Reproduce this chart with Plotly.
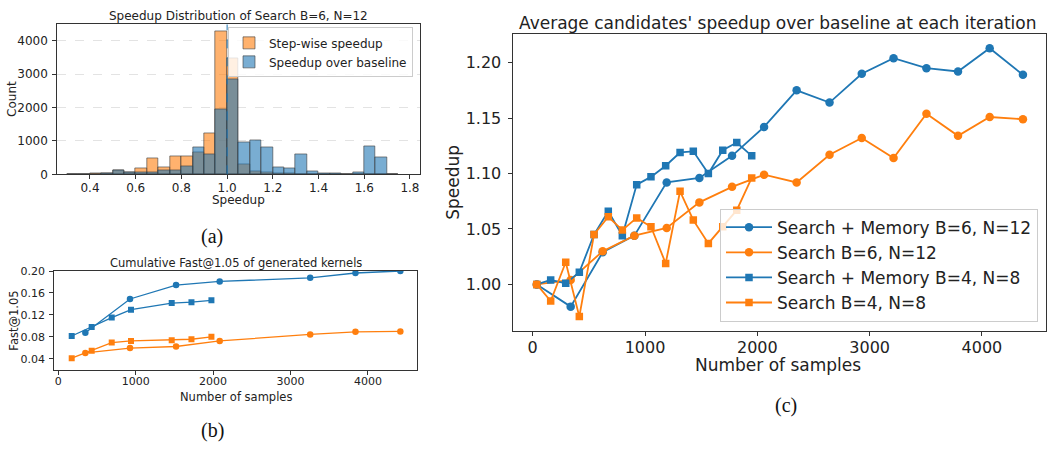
import plotly.graph_objects as go

W, H = 1047, 452

# ---------------- data: (a) histogram ----------------
bin_left = [0.30, 0.35, 0.40, 0.45, 0.50, 0.55, 0.60, 0.65, 0.70, 0.75, 0.80, 0.85, 0.90, 0.95,
            1.00, 1.05, 1.10, 1.15, 1.20, 1.25, 1.30, 1.35, 1.40, 1.45, 1.50, 1.55, 1.60, 1.65, 1.70]
bin_width = 0.05
stepwise_counts = [5, 10, 25, 20, 110, 70, 175, 465, 220, 545, 525, 660, 1220, 4290,
                   3485, 290, 88, 58, 40, 30, 10, 5, 5, 3, 2, 2, 0, 0, 0]
baseline_counts = [5, 5, 10, 30, 125, 65, 50, 68, 110, 122, 250, 818, 605, 1955,
                   2850, 940, 1005, 810, 195, 170, 610, 90, 25, 35, 10, 70, 845, 492, 3]

# ---------------- data: (b) cumulative Fast@1.05 ----------------
fast_x_b6 = [349, 926, 1521, 2085, 3254, 3839, 4419]
fast_mem_b6 = [0.0872, 0.1490, 0.1744, 0.1810, 0.1875, 0.1964, 0.2000]
fast_search_b6 = [0.0505, 0.0594, 0.0623, 0.0725, 0.0844, 0.0890, 0.0897]
fast_x_b4 = [173, 431, 690, 939, 1465, 1720, 1978]
fast_mem_b4 = [0.0815, 0.0979, 0.1151, 0.1294, 0.1416, 0.1431, 0.1466]
fast_search_b4 = [0.0410, 0.0546, 0.0694, 0.0724, 0.0737, 0.0755, 0.0800]

# ---------------- data: (c) average speedup ----------------
samples_b6 = [36, 338, 623, 905, 1193, 1484, 1775, 2060, 2350, 2643, 2930, 3213, 3506, 3787, 4069, 4365]
mem_b6 = [1.000, 0.980, 1.029, 1.044, 1.092, 1.096, 1.116, 1.142, 1.175, 1.164, 1.190, 1.204,
          1.195, 1.192, 1.213, 1.189]
search_b6 = [1.000, 1.004, 1.030, 1.044, 1.051, 1.074, 1.088, 1.099, 1.092, 1.117, 1.132, 1.114,
             1.154, 1.134, 1.151, 1.149]
samples_b4 = [36, 160, 294, 415, 546, 673, 798, 926, 1053, 1184, 1312, 1430, 1564, 1692, 1817, 1950]
mem_b4 = [1.000, 1.004, 1.001, 1.011, 1.045, 1.066, 1.044, 1.090, 1.097, 1.107, 1.119, 1.120,
          1.100, 1.121, 1.128, 1.116]
search_b4 = [1.000, 0.985, 1.020, 0.971, 1.045, 1.061, 1.049, 1.060, 1.052, 1.019, 1.084, 1.058,
             1.037, 1.052, 1.067, 1.096]

BLUE = "#1f77b4"
ORANGE = "#ff7f0e"
FONT = "DejaVu Sans"
TXT = "#222222"


def fx(p):
    return min(1.0, max(0.0, p / W))


def fy(p):
    return min(1.0, max(0.0, 1 - p / H))


fig = go.Figure()

# (a) histogram
centers = [b + bin_width / 2 for b in bin_left]
fig.add_trace(go.Bar(x=centers, y=stepwise_counts, width=bin_width, name="Step-wise speedup",
                     marker=dict(color="rgba(255,127,14,0.6)", line=dict(color="rgba(60,60,60,0.6)", width=1)),
                     xaxis="x", yaxis="y", legend="legend2"))
fig.add_trace(go.Bar(x=centers, y=baseline_counts, width=bin_width, name="Speedup over baseline",
                     marker=dict(color="rgba(31,119,180,0.6)", line=dict(color="rgba(60,60,60,0.6)", width=1)),
                     xaxis="x", yaxis="y", legend="legend2"))

# (b) cumulative
lb = dict(width=1.3)
fig.add_trace(go.Scatter(x=fast_x_b6, y=fast_mem_b6, mode="lines+markers", line=dict(color=BLUE, **lb),
                         marker=dict(symbol="circle", size=6.5, color=BLUE), xaxis="x2", yaxis="y2", showlegend=False))
fig.add_trace(go.Scatter(x=fast_x_b6, y=fast_search_b6, mode="lines+markers", line=dict(color=ORANGE, **lb),
                         marker=dict(symbol="circle", size=6.5, color=ORANGE), xaxis="x2", yaxis="y2", showlegend=False))
fig.add_trace(go.Scatter(x=fast_x_b4, y=fast_mem_b4, mode="lines+markers", line=dict(color=BLUE, **lb),
                         marker=dict(symbol="square", size=6, color=BLUE), xaxis="x2", yaxis="y2", showlegend=False))
fig.add_trace(go.Scatter(x=fast_x_b4, y=fast_search_b4, mode="lines+markers", line=dict(color=ORANGE, **lb),
                         marker=dict(symbol="square", size=6, color=ORANGE), xaxis="x2", yaxis="y2", showlegend=False))

# (c) average speedup
lc = dict(width=1.8)
fig.add_trace(go.Scatter(x=samples_b6, y=mem_b6, mode="lines+markers", name="Search + Memory B=6, N=12",
                         line=dict(color=BLUE, **lc), marker=dict(symbol="circle", size=8.5, color=BLUE),
                         xaxis="x3", yaxis="y3", legend="legend"))
fig.add_trace(go.Scatter(x=samples_b6, y=search_b6, mode="lines+markers", name="Search B=6, N=12",
                         line=dict(color=ORANGE, **lc), marker=dict(symbol="circle", size=8.5, color=ORANGE),
                         xaxis="x3", yaxis="y3", legend="legend"))
fig.add_trace(go.Scatter(x=samples_b4, y=mem_b4, mode="lines+markers", name="Search + Memory B=4, N=8",
                         line=dict(color=BLUE, **lc), marker=dict(symbol="square", size=7.5, color=BLUE),
                         xaxis="x3", yaxis="y3", legend="legend"))
fig.add_trace(go.Scatter(x=samples_b4, y=search_b4, mode="lines+markers", name="Search B=4, N=8",
                         line=dict(color=ORANGE, **lc), marker=dict(symbol="square", size=7.5, color=ORANGE),
                         xaxis="x3", yaxis="y3", legend="legend"))

axis_common = dict(showline=True, mirror=True, linecolor="#333333", linewidth=1, ticks="outside",
                   ticklen=4, tickcolor="#333333", showgrid=False, zeroline=False)

fig.update_layout(
    width=W, height=H, margin=dict(l=0, r=0, t=0, b=0),
    paper_bgcolor="white", plot_bgcolor="white",
    font=dict(family=FONT, color=TXT),
    barmode="overlay", bargap=0,
    # (a)
    xaxis=dict(domain=[fx(57.3), fx(420)], anchor="y", range=[0.257, 1.844],
               tickvals=[0.4, 0.6, 0.8, 1.0, 1.2, 1.4, 1.6, 1.8],
               ticktext=["0.4", "0.6", "0.8", "1.0", "1.2", "1.4", "1.6", "1.8"],
               tickfont=dict(size=12, family=FONT), ticklabelstandoff=-2, **axis_common),
    yaxis=dict(domain=[fy(173.3), fy(19)], anchor="x", range=[0, 4490],
               tickvals=[0, 1000, 2000, 3000, 4000], tickfont=dict(size=12, family=FONT), ticklabelstandoff=2,
               **{**axis_common, "showgrid": True}, gridcolor="#e3e3e3", griddash="dash", gridwidth=1),
    # (b)
    xaxis2=dict(domain=[fx(54.3), fx(417.3)], anchor="y2", range=[-52, 4638],
                tickvals=[0, 1000, 2000, 3000, 4000], tickfont=dict(size=11, family=FONT),
                ticklabelstandoff=-3, **axis_common),
    yaxis2=dict(domain=[fy(375), fy(272.7)], anchor="x2", range=[0.019, 0.2003],
                tickvals=[0.04, 0.08, 0.12, 0.16, 0.20], tickformat=".2f", ticklabelstandoff=2,
                tickfont=dict(size=11, family=FONT), **axis_common),
    # (c)  0 samples at 532.7px, 0.1123 px per sample
    xaxis3=dict(domain=[fx(512.5), fx(1045.5)], anchor="y3", range=[-180, 4566],
                tickvals=[0, 1000, 2000, 3000, 4000], tickfont=dict(size=16, family=FONT),
                ticklabelstandoff=-3, **axis_common),
    yaxis3=dict(domain=[fy(335), fy(29.3)], anchor="x3", range=[0.9577, 1.2254],
                tickvals=[1.00, 1.05, 1.10, 1.15, 1.20], tickformat=".2f", ticklabelstandoff=3,
                tickfont=dict(size=16, family=FONT), **axis_common),
    legend=dict(x=fx(1038), y=fy(325), xanchor="right", yanchor="bottom", itemwidth=46,
                bgcolor="rgba(255,255,255,0.8)", bordercolor="#cccccc", borderwidth=1,
                font=dict(size=17, family=FONT, color=TXT)),
    legend2=dict(x=fx(413), y=fy(22), xanchor="right", yanchor="top",
                 bgcolor="rgba(255,255,255,0.8)", bordercolor="#cccccc", borderwidth=1,
                 font=dict(size=12, family=FONT, color=TXT)),
    shapes=[dict(type="line", xref="x", yref="y domain", x0=1.0, x1=1.0, y0=0, y1=1,
                 line=dict(color=BLUE, width=1, dash="dash"))],
)

annotations = [
    # subplot titles
    dict(text="Speedup Distribution of Search B=6, N=12", x=238.5, y=10, size=12),
    dict(text="Cumulative Fast@1.05 of generated kernels", x=236, y=265, size=11.5),
    dict(text="Average candidates' speedup over baseline at each iteration", x=778, y=18, size=17),
    # axis titles
    dict(text="Speedup", x=238.5, y=200, size=12),
    dict(text="Count", x=12.7, y=96, size=12, angle=-90),
    dict(text="Number of samples", x=236, y=402.5, size=11.5),
    dict(text="Fast@1.05", x=14, y=324, size=11.5, angle=-90),
    dict(text="Number of samples", x=778, y=370, size=17),
    dict(text="Speedup", x=453, y=182, size=17, angle=-90),
]
anns = []
for a in annotations:
    anns.append(dict(text=a["text"], x=fx(a["x"]), y=fy(a["y"]), xref="paper", yref="paper",
                     xanchor="center", yanchor="middle", showarrow=False, textangle=a.get("angle", 0),
                     borderpad=0, font=dict(size=a["size"], family=FONT, color=TXT)))
for lab, x, y in [("(a)", 212, 237), ("(b)", 212, 437), ("(c)", 786, 411)]:
    anns.append(dict(text=lab, x=fx(x), y=fy(y), xref="paper", yref="paper", xanchor="center",
                     yanchor="middle", showarrow=False, borderpad=0,
                     font=dict(size=20, family="Liberation Serif", color="#111111")))
fig.update_layout(annotations=anns)

fig.write_html("out.html", config={"displayModeBar": False},
               post_script="document.body.style.margin='0';document.body.style.overflow='hidden';")
